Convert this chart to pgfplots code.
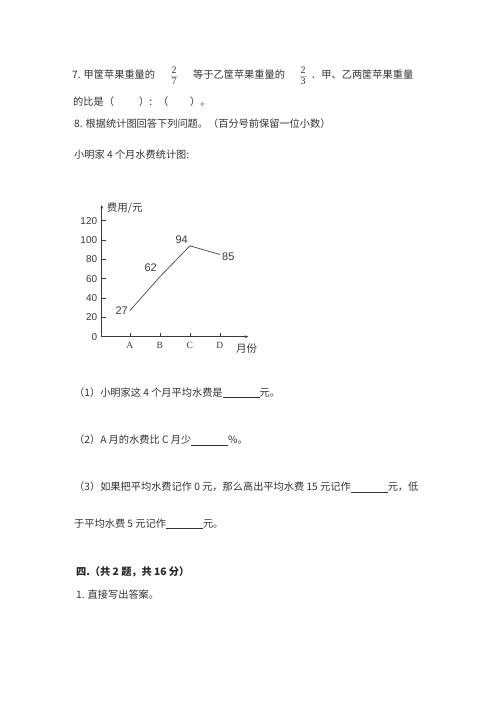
\documentclass[border=0pt]{standalone}
\usepackage{fontspec}
\usepackage{pgfplots}
\pgfplotsset{compat=1.18}
\usetikzlibrary{arrows.meta}
\setmainfont{Liberation Serif}
\setsansfont{Liberation Sans}
\newfontfamily\cjk{Noto Sans CJK SC}
\definecolor{ink}{HTML}{333333}
\definecolor{chartink}{HTML}{3A3A3A}
\newcommand{\txt}{\cjk\fontsize{10.2}{12}\selectfont}
\newcommand{\blank}{\underline{\hspace{37pt}}}

\begin{document}
\begin{tikzpicture}
\path[fill=white] (0pt,0pt) rectangle (500pt,707pt);

% question 7
\begin{scope}[every node/.style={inner sep=0pt, text=ink, anchor=base west}]
\node at (72pt,628.1pt) {\txt 7. 甲筐苹果重量的};
\node[anchor=center] at (174pt,637pt) {\fontsize{10}{11}\selectfont 2};
\node[anchor=center] at (174pt,625.3pt) {\fontsize{10}{11}\selectfont 7};
\draw[black!25, line width=0.4pt] (170.5pt,631pt) -- (177.5pt,631pt);
\node at (193pt,628.1pt) {\txt 等于乙筐苹果重量的};
\node[anchor=center] at (303pt,637pt) {\fontsize{10}{11}\selectfont 2};
\node[anchor=center] at (303pt,625.3pt) {\fontsize{10}{11}\selectfont 3};
\draw[black!25, line width=0.4pt] (299.5pt,631pt) -- (306.5pt,631pt);
\node at (311pt,628.1pt) {\txt ．甲、乙两筐苹果重量};
\node at (73pt,601.4pt) {\txt 的比是（};
\node at (139pt,601.4pt) {\txt ）:};
\node at (158pt,601.4pt) {\txt （};
\node at (190pt,601.4pt) {\txt ）。};

% question 8
\node at (74pt,579.8pt) {\txt 8. 根据统计图回答下列问题。（百分号前保留一位小数）};
\node at (74pt,548.1pt) {\txt 小明家 4 个月水费统计图:};

\node at (74pt,310.8pt) {\txt （1）小明家这 4 个月平均水费是\blank 元。};
\node at (74pt,263.1pt) {\txt （2）A 月的水费比 C 月少\blank \%。};
\node at (74pt,216.4pt) {\txt （3）如果把平均水费记作 0 元，那么高出平均水费 15 元记作\blank 元，低};
\node at (74pt,179.8pt) {\txt 于平均水费 5 元记作\blank 元。};

\node[text=black!85] at (76pt,131.4pt) {\txt\bfseries 四.（共 2 题，共 16 分）};
\node at (76pt,108.1pt) {\txt 1. 直接写出答案。};
\end{scope}

\begin{axis}[
    at={(101.7pt,370.3pt)}, anchor=south west,
    scale only axis, width=146.7pt, height=131.7pt,
    xmin=0.06, xmax=4.95, ymin=0, ymax=136.2,
    axis lines=left,
    axis line style={draw=chartink, line width=0.7pt, -{Stealth[length=3.5pt,width=2.6pt]}},
    xtick={1,2,3,4}, xticklabels={A,B,C,D},
    ytick={0,20,40,60,80,100,120},
    tick align=inside, major tick length=4pt,
    tick style={draw=chartink, line width=0.6pt},
    xticklabel style={font=\fontsize{9.5}{10}\selectfont, text=chartink, yshift=-2pt},
    yticklabel style={font=\sffamily\fontsize{10}{11}\selectfont, text=chartink, xshift=-1pt},
    /pgf/number format/assume math mode=true,
    clip=false,
]
\addplot[draw=black!65, line width=0.8pt] coordinates {
    (1,27) (2,62) (3,94) (4,85)
};
\node[font=\sffamily\fontsize{11}{12}\selectfont, text=chartink] at (axis cs:0.727,26.6) {27};
\node[font=\sffamily\fontsize{11}{12}\selectfont, text=chartink] at (axis cs:1.693,71.0) {62};
\node[font=\sffamily\fontsize{11}{12}\selectfont, text=chartink] at (axis cs:2.727,100.7) {94};
\node[font=\sffamily\fontsize{11}{12}\selectfont, text=chartink] at (axis cs:4.28,82.7) {85};
\node[font=\cjk\fontsize{10.5}{12}\selectfont, text=chartink, anchor=west, inner sep=0pt] at (axis cs:0.227,132.8) {费用/元};
\node[font=\cjk\fontsize{10.5}{12}\selectfont, text=chartink, inner sep=0pt] at (axis cs:4.887,-12) {月份};
\end{axis}
\end{tikzpicture}
\end{document}
